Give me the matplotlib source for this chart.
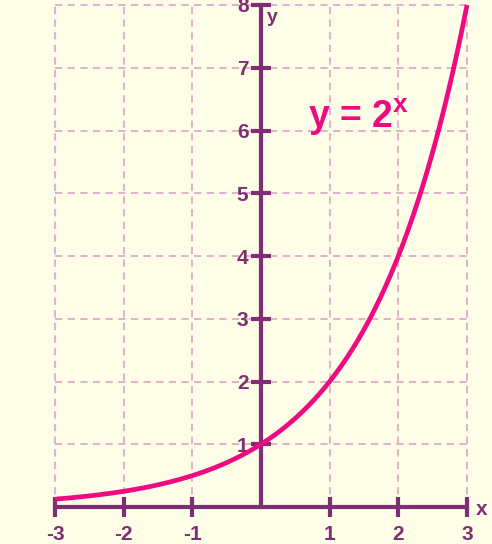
import numpy as np
import matplotlib
matplotlib.use('Agg')
import matplotlib.pyplot as plt

# data
x_ticks = [-3, -2, -1, 1, 2, 3]
y_ticks = [1, 2, 3, 4, 5, 6, 7, 8]
x_vals = np.linspace(-3, 3, 300)
y_vals = 2.0 ** x_vals

BG = '#FEFDE8'
PURPLE = '#7E2F73'
PINK = '#EE0A80'
GRID = '#DDAACA'

fig = plt.figure(figsize=(4.92, 5.44), dpi=100, facecolor=BG)
ax = fig.add_axes([55 / 492, 37 / 544, 412 / 492, 502 / 544])
ax.set_facecolor(BG)
ax.set_xlim(-3, 3)
ax.set_ylim(0, 8)

# dashed grid
for gx in [-3, -2, -1, 1, 2, 3]:
    ax.plot([gx, gx], [0, 8], color=GRID, lw=1.3, ls=(0, (4, 3)), clip_on=False, zorder=1)
for gy in y_ticks:
    ax.plot([-3, 3], [gy, gy], color=GRID, lw=1.3, ls=(0, (4, 3)), clip_on=False, zorder=1)

# axes
for s in ['top', 'right']:
    ax.spines[s].set_visible(False)
ax.spines['left'].set_position(('data', 0))
ax.spines['bottom'].set_position(('data', 0))
for s in ['left', 'bottom']:
    ax.spines[s].set_color(PURPLE)
    ax.spines[s].set_linewidth(3)
    ax.spines[s].set_zorder(3)
    ax.spines[s].set_clip_on(False)

ax.set_xticks(x_ticks)
ax.set_yticks(y_ticks)
ax.set_xticklabels([str(v) for v in x_ticks])
ax.set_yticklabels([str(v) for v in y_ticks])
ax.tick_params(axis='x', direction='inout', length=14, width=3, color=PURPLE,
               labelcolor=PURPLE, labelsize=15, pad=6)
ax.tick_params(axis='y', direction='inout', length=14, width=3, color=PURPLE,
               labelcolor=PURPLE, labelsize=15, pad=2)
for lbl in ax.get_xticklabels() + ax.get_yticklabels():
    lbl.set_fontweight('bold')
    lbl.set_fontfamily('Liberation Sans')

# curve
ax.plot(x_vals, y_vals, color=PINK, lw=3.4, zorder=4, clip_on=False, solid_capstyle='butt')

ax.text(0.09, 7.8, 'y', color=PURPLE, fontsize=14, fontweight='bold',
        family='Liberation Sans', ha='left', va='center')
ax.text(3.13, -0.04, 'x', color=PURPLE, fontsize=15, fontweight='bold',
        family='Liberation Sans', ha='left', va='center', clip_on=False)
ax.text(0.68, 6.04, r'y = 2$^{\mathregular{x}}$', color=PINK, fontsize=27, fontweight='bold',
        family='Liberation Sans', ha='left', va='baseline')

fig.savefig('out.png', dpi=100, facecolor=BG)
plt.close('all')
